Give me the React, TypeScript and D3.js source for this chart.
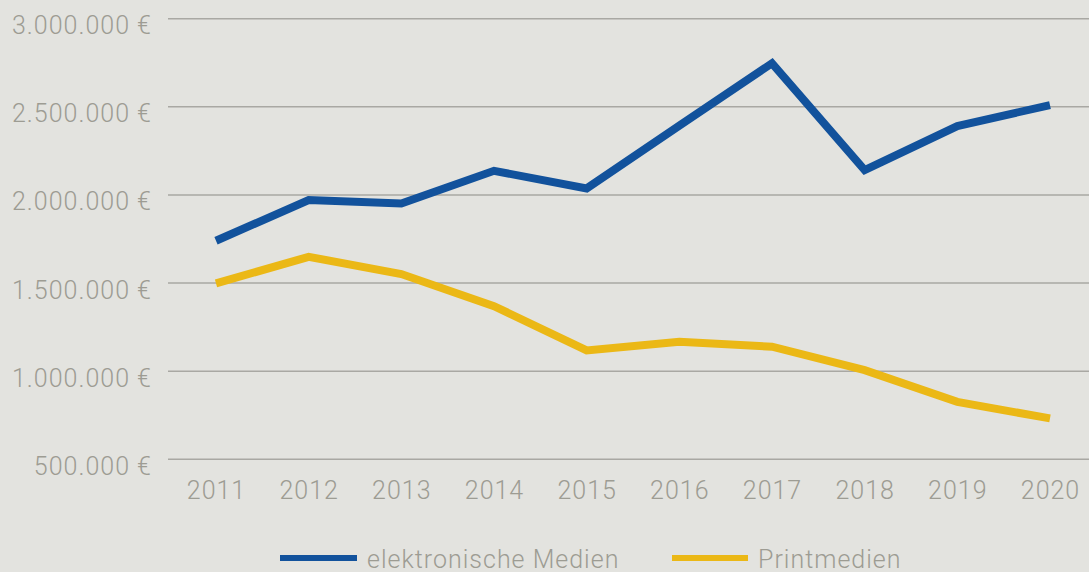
import React from "react";
import * as d3 from "d3";

const years = ["2011", "2012", "2013", "2014", "2015", "2016", "2017", "2018", "2019", "2020"];
const elektronisch = [1740000, 1971000, 1952000, 2137000, 2037000, 2393000, 2747000, 2141000, 2391000, 2510000];
const print = [1498000, 1649000, 1551000, 1369000, 1118000, 1167000, 1139000, 1006000, 826000, 732000];
const yTicks = [500000, 1000000, 1500000, 2000000, 2500000, 3000000];
const seriesNames = ["elektronische Medien", "Printmedien"];
const colors = ["#12529c", "#ebb816"];

const W = 1089;
const H = 572;
const FONT = "Roboto, 'Open Sans', sans-serif";
const TEXT = "#9d9c93";
const FS = 25;
const LS = 1;

export default function App() {
  const x = d3.scalePoint<string>().domain(years).range([216, 1050]);
  const y = d3.scaleLinear().domain([500000, 3000000]).range([459.3, 18.7]);
  const fmt = (v: number) => d3.format(",")(v).replace(/,/g, ".") + " €";
  const line = d3
    .line<number>()
    .x((_, i) => x(years[i]) as number)
    .y((d) => y(d));
  const data = [elektronisch, print];

  return (
    <svg
      width={W}
      height={H}
      style={{ position: "absolute", left: 0, top: 0, background: "#e3e3df" }}
    >
      <rect x={0} y={0} width={W} height={H} fill="#e3e3df" />
      {yTicks.map((t) => (
        <g key={t}>
          <line x1={168} x2={W} y1={y(t)} y2={y(t)} stroke="#a9a8a3" strokeWidth={1.6} />
          <text
            x={152}
            y={y(t) + 15.5}
            textAnchor="end"
            fontFamily={FONT}
            fontWeight={300}
            fontSize={FS}
            letterSpacing={LS}
            fill={TEXT}
          >
            {fmt(t)}
          </text>
        </g>
      ))}
      {years.map((yr) => (
        <text
          key={yr}
          x={(x(yr) as number) + 0.5}
          y={499}
          textAnchor="middle"
          fontFamily={FONT}
          fontWeight={300}
          fontSize={FS}
          letterSpacing={LS}
          fill={TEXT}
        >
          {yr}
        </text>
      ))}
      {data.map((d, i) => (
        <path
          key={i}
          d={line(d) || ""}
          fill="none"
          stroke={colors[i]}
          strokeWidth={8}
          strokeLinejoin="miter"
          strokeLinecap="butt"
        />
      ))}
      {[
        { x0: 280, x1: 357, tx: 367 },
        { x0: 672, x1: 748, tx: 758 },
      ].map((l, i) => (
        <g key={i}>
          <line x1={l.x0} x2={l.x1} y1={558} y2={558} stroke={colors[i]} strokeWidth={6} />
          <text
            x={l.tx}
            y={568}
            fontFamily={FONT}
            fontWeight={300}
            fontSize={FS}
            letterSpacing={LS}
            fill={TEXT}
          >
            {seriesNames[i]}
          </text>
        </g>
      ))}
    </svg>
  );
}
